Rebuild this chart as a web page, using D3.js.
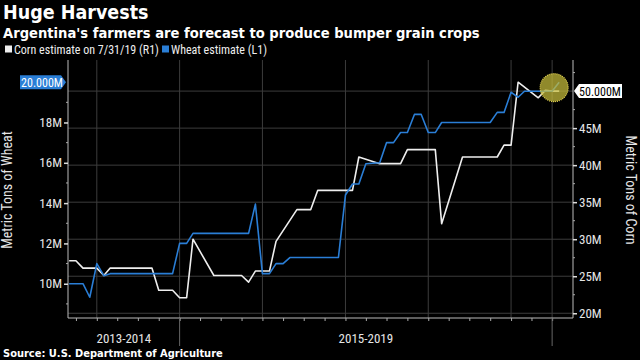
<!DOCTYPE html>
<html><head><meta charset="utf-8">
<script src="https://cdn.jsdelivr.net/npm/d3@7"></script>
<style>
html,body{margin:0;padding:0;background:#000;}
svg{display:block;}
text{font-family:"Liberation Sans Narrow","Roboto Condensed","Liberation Sans",sans-serif;}
</style></head>
<body>
<script>
// ---- data ----
const cornDates = ["2013-09","2013-10","2013-11","2014-01","2014-02","2014-03","2014-09","2014-10","2014-12","2015-01","2015-02","2015-03","2015-06","2015-10","2015-11","2015-12","2016-02","2016-03","2016-06","2016-08","2016-09","2017-02","2017-03","2017-06","2017-09","2017-10","2018-02","2018-03","2018-06","2018-11","2018-12","2019-01","2019-02","2019-05","2019-06","2019-07","2019-08"];
const cornValues = [27.1,27.1,26.1,26.1,25.1,26.1,26.1,23.1,23.1,22.1,22.1,30.0,25.1,25.1,24.2,25.7,25.7,29.7,34.0,34.0,36.6,36.6,41.1,40.2,40.2,42.1,42.1,32.1,41.1,41.1,42.7,42.7,51.2,49.1,50.1,50.0,50.0];
const wheatDates = ["2013-09","2013-11","2013-12","2014-01","2014-02","2014-03","2014-12","2015-01","2015-02","2015-03","2015-11","2015-12","2016-01","2016-02","2016-03","2016-04","2016-05","2016-12","2017-01","2017-02","2017-03","2017-04","2017-06","2017-07","2017-08","2017-09","2017-10","2017-11","2017-12","2018-01","2018-02","2018-03","2018-10","2018-11","2018-12","2019-01","2019-02","2019-03","2019-07","2019-08"];
const wheatValues = [10.0,10.0,9.33,11.0,10.4,10.5,10.5,12.0,12.0,12.5,12.5,13.95,10.5,10.5,11.0,11.0,11.3,11.3,14.4,14.95,14.95,15.95,16.0,17.0,17.0,17.5,17.5,18.4,18.4,17.5,17.5,18.0,18.0,18.5,18.5,19.5,19.25,19.55,19.55,20.0];
const wheatTicks = [10,12,14,16,18];
const cornTicks = [20,25,30,35,40,45];
const periodLabels = ["2013-2014","2015-2019"];
const periodBounds = ["2013-08-27","2015-01-01","2019-07-01"];
const titleText = "Huge Harvests";
const subtitleText = "Argentina's farmers are forecast to produce bumper grain crops";
const legendLabels = ["Corn estimate on 7/31/19 (R1)","Wheat estimate (L1)"];
const sourceText = "Source: U.S. Department of Agriculture";

// ---- layout ----
const W = 640, H = 360;
const L = 68, R = 573, T = 60, B = 318;
const BLUE = "#2a7ed6", WHITE = "#eeeeee", GRID = "#3c3c3c";
const parse = d3.timeParse("%Y-%m");
const parseD = d3.timeParse("%Y-%m-%d");

const svg = d3.select("body").append("svg").attr("width", W).attr("height", H);
svg.append("rect").attr("width", W).attr("height", H).attr("fill", "#000");

const x = d3.scaleTime().domain([parseD("2013-08-27"), parseD("2019-10-01")]).range([L, R]);
const yW = d3.scaleLinear().domain([8.3, 21.1]).range([B, T]);
const yC = d3.scaleLinear().domain([19.36, 54.2]).range([B, T]);

// gridlines (horizontal from corn axis)
const g = svg.append("g");
g.selectAll("line.h").data(cornTicks.concat([50])).join("line")
  .attr("x1", L).attr("x2", R).attr("y1", d => yC(d)).attr("y2", d => yC(d))
  .attr("stroke", GRID).attr("stroke-width", 1);
// vertical gridlines at each year start
const years = d3.timeYear.range(parseD("2014-01-01"), parseD("2019-02-01"));
g.selectAll("line.v").data(years).join("line")
  .attr("x1", d => x(d)).attr("x2", d => x(d)).attr("y1", T).attr("y2", B)
  .attr("stroke", GRID);
g.append("line").attr("x1", x(parseD(periodBounds[2]))).attr("x2", x(parseD(periodBounds[2])))
  .attr("y1", T).attr("y2", B).attr("stroke", GRID);

// left axis
const axL = d3.axisLeft(yW).tickValues(wheatTicks).tickFormat(d => d + "M").tickSize(4).tickPadding(2);
const gL = svg.append("g").attr("transform", `translate(${L},0)`).call(axL);
gL.select(".domain").attr("stroke", "#bbb").attr("d", `M0,${T}V${B}`);
gL.selectAll(".tick line").attr("stroke", "#ddd").attr("stroke-width", 1.5);
gL.selectAll(".tick text").attr("fill", "#e6e6e6").attr("font-size", 13);
const minorW = d3.range(9, 21, 1).filter(v => !wheatTicks.includes(v) && v !== 20);
svg.append("g").selectAll("line").data(minorW).join("line")
  .attr("x1", L - 2).attr("x2", L).attr("y1", d => yW(d)).attr("y2", d => yW(d)).attr("stroke", "#aaa");

// right axis
const axR = d3.axisRight(yC).tickValues(cornTicks).tickFormat(d => d + "M").tickSize(4).tickPadding(2);
const gR = svg.append("g").attr("transform", `translate(${R},0)`).call(axR);
gR.select(".domain").attr("stroke", "#bbb").attr("d", `M0,${T}V${B}`);
gR.selectAll(".tick line").attr("stroke", "#ddd").attr("stroke-width", 1.5);
gR.selectAll(".tick text").attr("fill", "#e6e6e6").attr("font-size", 13);
const minorC = d3.range(22.5, 54, 5);
svg.append("g").selectAll("line").data(minorC).join("line")
  .attr("x1", R).attr("x2", R + 2).attr("y1", d => yC(d)).attr("y2", d => yC(d)).attr("stroke", "#aaa");

// bottom axis
const quarters = d3.timeMonth.every(3).range(parseD("2013-10-01"), parseD("2019-10-01"));
const axB = d3.axisBottom(x).tickValues(quarters).tickFormat("").tickSize(3);
const gB = svg.append("g").attr("transform", `translate(0,${B})`).call(axB);
gB.select(".domain").attr("stroke", "#bbb").attr("d", `M${L},0H${R}`);
gB.selectAll(".tick line").attr("stroke", "#aaa");
svg.append("g").selectAll("line").data(periodBounds.slice(1)).join("line")
  .attr("x1", d => x(parseD(d))).attr("x2", d => x(parseD(d)))
  .attr("y1", B).attr("y2", 346).attr("stroke", "#666");
svg.append("g").selectAll("text").data(periodLabels).join("text")
  .attr("x", (d, i) => (x(parseD(periodBounds[i])) + x(parseD(periodBounds[i + 1]))) / 2)
  .attr("y", 343).attr("text-anchor", "middle").attr("fill", "#e6e6e6").attr("font-size", 13).text(d => d);

// lines
const cornData = cornDates.map((d, i) => ({ date: parse(d), v: cornValues[i] }));
const wheatData = wheatDates.map((d, i) => ({ date: parse(d), v: wheatValues[i] }));
svg.append("path").datum(cornData).attr("fill", "none").attr("stroke", WHITE).attr("stroke-width", 1.6)
  .attr("stroke-linejoin", "round")
  .attr("d", d3.line().x(d => x(d.date)).y(d => yC(d.v)));
svg.append("path").datum(wheatData).attr("fill", "none").attr("stroke", BLUE).attr("stroke-width", 1.6)
  .attr("stroke-linejoin", "round")
  .attr("d", d3.line().x(d => x(d.date)).y(d => yW(d.v)));

// highlight circle
const lastW = wheatData[wheatData.length - 1];
svg.append("circle").attr("cx", x(parse("2019-07")) + 2).attr("cy", (yC(50) + yW(20)) / 2 + 1).attr("r", 14)
  .attr("fill", "rgba(200,190,60,0.72)").attr("stroke", "#e0d050").attr("stroke-width", 1.2)
  .attr("stroke-dasharray", "1,1");

// last value labels
const wy = yW(lastW.v);
svg.append("path").attr("d", `M20,${wy - 7}H61L66,${wy}L61,${wy + 7}H20Z`).attr("fill", BLUE);
svg.append("text").attr("x", 42).attr("y", wy + 4.5).attr("text-anchor", "middle").attr("fill", "#fff")
  .attr("font-size", 12).text(d3.format(".3f")(lastW.v) + "M");
const lastC = cornData[cornData.length - 1];
const cy = yC(lastC.v);
svg.append("path").attr("d", `M574,${cy}L579,${cy - 7}H622V${cy + 7}H579Z`).attr("fill", "#fff");
svg.append("text").attr("x", 600).attr("y", cy + 4.5).attr("text-anchor", "middle").attr("fill", "#000")
  .attr("font-size", 12).text(d3.format(".3f")(lastC.v) + "M");

// axis titles
svg.append("text").attr("transform", `translate(12,190) rotate(-90)`).attr("text-anchor", "middle")
  .attr("fill", "#e6e6e6").attr("font-size", 14).text("Metric Tons of Wheat");
svg.append("text").attr("transform", `translate(626,190) rotate(90)`).attr("text-anchor", "middle")
  .attr("fill", "#e6e6e6").attr("font-size", 14).text("Metric Tons of Corn");

// titles
svg.append("text").attr("x", 3).attr("y", 19).attr("fill", "#fff").attr("font-size", 19.5).attr("font-weight", "bold")
  .style("font-family", "'DejaVu Sans Condensed','DejaVu Sans',sans-serif").text(titleText);
svg.append("text").attr("x", 3).attr("y", 38).attr("fill", "#fff").attr("font-size", 14.6).attr("font-weight", "bold")
  .style("font-family", "'DejaVu Sans Condensed','DejaVu Sans',sans-serif").text(subtitleText);

// legend
const leg = svg.append("g");
leg.append("rect").attr("x", 5).attr("y", 45.5).attr("width", 7).attr("height", 7).attr("fill", WHITE);
leg.append("text").attr("x", 14).attr("y", 53.5).attr("fill", "#eee").attr("font-size", 12).text(legendLabels[0]);
leg.append("rect").attr("x", 162).attr("y", 45.5).attr("width", 7).attr("height", 7).attr("fill", BLUE);
leg.append("text").attr("x", 171).attr("y", 53.5).attr("fill", "#eee").attr("font-size", 12).text(legendLabels[1]);

// source
svg.append("text").attr("x", 3).attr("y", 357).attr("fill", "#fff").attr("font-size", 11).attr("font-weight", "bold")
  .style("font-family", "'DejaVu Sans Condensed','DejaVu Sans',sans-serif").text(sourceText);
</script>
</body></html>
